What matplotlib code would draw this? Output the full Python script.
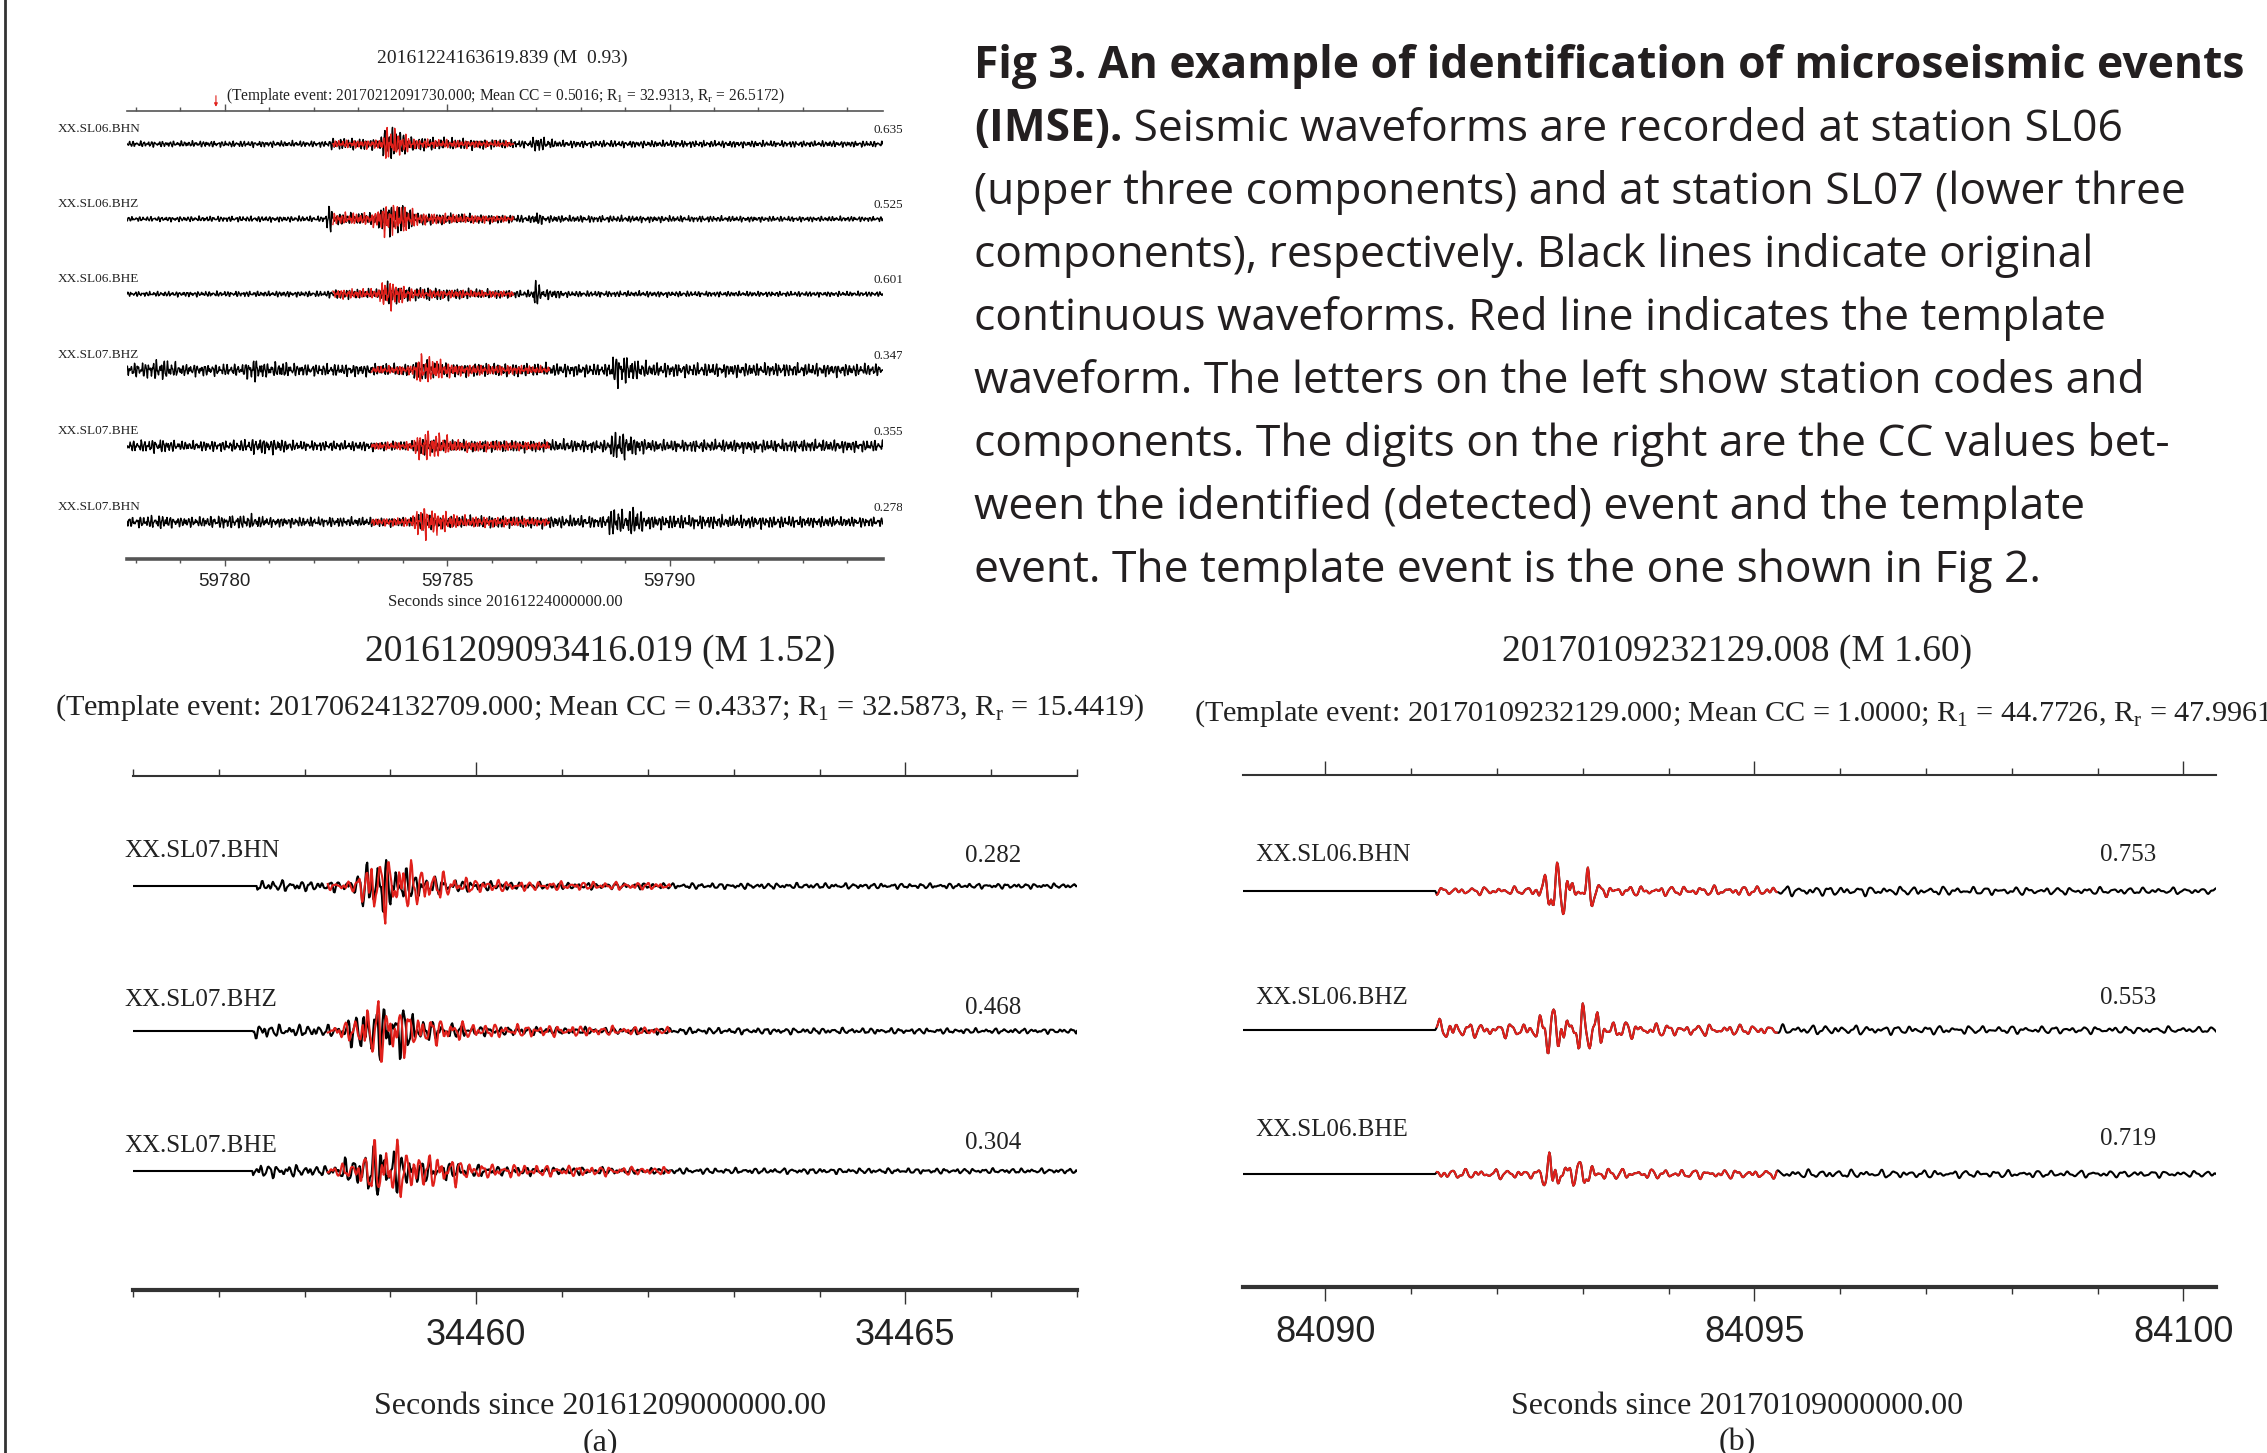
import numpy as np
import matplotlib.pyplot as plt
from matplotlib import font_manager
from matplotlib.lines import Line2D
from matplotlib.ticker import MultipleLocator, FormatStrFormatter
from matplotlib.transforms import Bbox

W, H = 2267, 1453
RED = '#e0201b'
INK = '#231f20'
SERIF = 'Liberation Serif'
SANS = 'Liberation Sans'

_names = {f.name for f in font_manager.fontManager.ttflist}
CAPTION_FONT = next((n for n in ['Open Sans', 'Noto Sans', 'Lato'] if n in _names), 'DejaVu Sans')

# ---------------- data ----------------
# top-left event
top_title = '20161224163619.839 (M  0.93)'
top_sub = (r'(Template event: 20170212091730.000; Mean CC = 0.5016; '
           r'R$_\mathregular{1}$ = 32.9313, R$_\mathregular{r}$ = 26.5172)')
top_xlabel = 'Seconds since 20161224000000.00'
top_xlim = (59777.8, 59794.8)
top_arrow_t = 59779.8
top_stations = ['XX.SL06.BHN', 'XX.SL06.BHZ', 'XX.SL06.BHE',
                'XX.SL07.BHZ', 'XX.SL07.BHE', 'XX.SL07.BHN']
top_cc = ['0.635', '0.525', '0.601', '0.347', '0.355', '0.278']
# envelope knots: (seconds, half amplitude)
top_black = [
    [(59777.8, 2.5), (59782.3, 2.5), (59782.4, 5), (59783.5, 5), (59783.6, 15), (59783.9, 12),
     (59784.2, 6), (59786.9, 3), (59786.95, 8), (59787.2, 5), (59787.5, 3), (59794.8, 2.5)],
    [(59777.8, 2), (59782.25, 2.5), (59782.33, 15), (59782.45, 5), (59783.4, 5), (59783.6, 14),
     (59784.0, 12), (59784.3, 5), (59786.9, 3), (59787.0, 7), (59787.2, 3), (59794.8, 2)],
    [(59777.8, 2), (59782.3, 2.5), (59782.4, 4), (59783.5, 4), (59783.65, 10), (59784.0, 6),
     (59786.9, 3), (59786.98, 15), (59787.1, 5), (59787.4, 4), (59787.7, 2.5), (59794.8, 2)],
    [(59777.8, 5), (59778.3, 7), (59778.6, 9), (59779.0, 5), (59780.4, 5), (59780.6, 11),
     (59780.9, 6), (59781.3, 7), (59781.6, 5), (59784.2, 5), (59784.4, 10), (59784.8, 6),
     (59788.6, 5), (59788.8, 15), (59789.2, 9), (59789.6, 6), (59794.8, 5)],
    [(59777.8, 4), (59778.5, 6), (59779.0, 4), (59780.4, 5), (59780.7, 7), (59781.2, 6),
     (59781.6, 4), (59784.2, 4), (59784.4, 8), (59784.8, 5), (59788.6, 5), (59788.8, 14),
     (59789.2, 8), (59789.6, 5), (59794.8, 5)],
    [(59777.8, 4), (59778.6, 6), (59779.0, 4), (59780.6, 6), (59781.0, 4), (59784.2, 4),
     (59784.4, 8), (59784.8, 5), (59788.5, 5), (59788.75, 14), (59789.0, 8), (59789.2, 14),
     (59789.45, 6), (59794.8, 4)],
]
top_red = [
    [(59782.43, 3), (59783.5, 4), (59783.65, 15), (59783.95, 10), (59784.3, 4), (59786.49, 2.5)],
    [(59782.43, 5), (59783.3, 5), (59783.6, 14), (59784.0, 12), (59784.4, 5), (59786.49, 2.5)],
    [(59782.43, 4), (59783.4, 4), (59783.65, 14), (59783.9, 9), (59784.3, 4), (59786.49, 2.5)],
    [(59783.3, 3), (59784.2, 4), (59784.4, 14), (59784.7, 10), (59785.2, 5), (59787.3, 3)],
    [(59783.3, 3), (59784.2, 4), (59784.45, 14), (59784.8, 11), (59785.2, 5), (59787.3, 3)],
    [(59783.3, 3), (59784.2, 4), (59784.4, 15), (59784.8, 10), (59785.3, 5), (59787.3, 3)],
]

# event (a)
a_title = '20161209093416.019 (M 1.52)'
a_sub = (r'(Template event: 20170624132709.000; Mean CC = 0.4337; '
         r'R$_\mathregular{1}$ = 32.5873, R$_\mathregular{r}$ = 15.4419)')
a_xlabel = 'Seconds since 20161209000000.00'
a_xlim = (34456.0, 34467.0)
a_stations = ['XX.SL07.BHN', 'XX.SL07.BHZ', 'XX.SL07.BHE']
a_cc = ['0.282', '0.468', '0.304']
a_black = [
    [(34456.0, 0), (34457.44, 0), (34457.45, 5), (34458.2, 4), (34458.6, 6), (34458.7, 26),
     (34459.0, 22), (34459.3, 10), (34459.8, 5), (34460.5, 3), (34462.0, 2.5), (34467.0, 2)],
    [(34456.0, 0), (34457.39, 0), (34457.4, 9), (34457.6, 5), (34458.4, 5), (34458.7, 22),
     (34459.1, 24), (34459.4, 9), (34460.0, 4), (34461.0, 3), (34467.0, 2)],
    [(34456.0, 0), (34457.39, 0), (34457.4, 6), (34458.3, 4), (34458.65, 16), (34458.9, 26),
     (34459.2, 12), (34459.6, 8), (34460.2, 4), (34462.0, 2.5), (34467.0, 2)],
]
a_red = [
    [(34458.27, 3), (34458.6, 5), (34458.75, 28), (34459.1, 25), (34459.4, 16), (34459.8, 7),
     (34460.5, 4), (34462.26, 3)],
    [(34458.27, 4), (34458.6, 10), (34458.75, 26), (34459.0, 26), (34459.3, 14), (34460.0, 6),
     (34462.26, 3)],
    [(34458.27, 3), (34458.6, 8), (34458.8, 24), (34459.0, 27), (34459.4, 14), (34459.6, 15),
     (34460.0, 6), (34462.26, 3)],
]

# event (b): template is the event itself, red covers the template window
b_title = '20170109232129.008 (M 1.60)'
b_sub = (r'(Template event: 20170109232129.000; Mean CC = 1.0000; '
         r'R$_\mathregular{1}$ = 44.7726, R$_\mathregular{r}$ = 47.9961)')
b_xlabel = 'Seconds since 20170109000000.00'
b_xlim = (84089.04, 84100.38)
b_red_window = (84091.29, 84095.26)
b_stations = ['XX.SL06.BHN', 'XX.SL06.BHZ', 'XX.SL06.BHE']
b_cc = ['0.753', '0.553', '0.719']
b_black = [
    [(84089.0, 0), (84091.28, 0), (84091.3, 3), (84092.45, 3.5), (84092.55, 22), (84092.8, 22),
     (84092.95, 6), (84093.05, 20), (84093.2, 6), (84093.5, 4), (84095.3, 4), (84100.4, 2.5)],
    [(84089.0, 0), (84091.28, 0), (84091.3, 15), (84091.45, 8), (84091.6, 6), (84092.4, 6),
     (84092.55, 20), (84093.15, 20), (84093.35, 8), (84094.0, 5), (84095.3, 4), (84100.4, 2.5)],
    [(84089.0, 0), (84091.28, 0), (84091.3, 4), (84092.5, 4), (84092.62, 22), (84092.75, 18),
     (84092.9, 8), (84093.0, 16), (84093.15, 6), (84093.5, 4), (84095.3, 3.5), (84100.4, 2.5)],
]

caption_bold = 'Fig 3. An example of identification of microseismic events'
caption_bold2 = '(IMSE).'
caption_lines = [
    ' Seismic waveforms are recorded at station SL06',
    '(upper three components) and at station SL07 (lower three',
    'components), respectively. Black lines indicate original',
    'continuous waveforms. Red line indicates the template',
    'waveform. The letters on the left show station codes and',
    'components. The digits on the right are the CC values bet-',
    'ween the identified (detected) event and the template',
    'event. The template event is the one shown in Fig 2.',
]


# ---------------- helpers ----------------
def wiggle(t, f, k):
    p = 1.3 * k
    return (np.sin(2 * np.pi * f * t + p)
            + 0.7 * np.sin(2 * np.pi * 1.37 * f * t + 2.1 * p + 0.4)
            + 0.5 * np.sin(2 * np.pi * 1.93 * f * t + 3.3 * p + 1.2)
            + 0.35 * np.sin(2 * np.pi * 2.71 * f * t + 0.7 * p + 2.0)) / 1.7


def trace(env, f, k, t0=None, t1=None, dt=0.01):
    kt, ka = np.array(env).T
    t0 = kt[0] if t0 is None else t0
    t1 = kt[-1] if t1 is None else t1
    t = np.arange(t0, t1 + dt / 2, dt)
    return t, np.interp(t, kt, ka, left=0, right=0) * wiggle(t, f, k)


def rect_px(x0, y0, x1, y1):
    return [x0 / W, 1 - y1 / H, (x1 - x0) / W, (y1 - y0) / H]


def ftext(x, y, s, **kw):
    return fig.text(x / W, 1 - y / H, s, **kw)


def seis_axes(x0, y0, x1, y1, xlim, tick_size, major_len, minor_len, top_lw, bot_lw, pad,
              color='#333333'):
    ax = fig.add_axes(rect_px(x0, y0, x1, y1))
    ax.set_xlim(xlim)
    ax.set_ylim(-(y1 - y0), 0)
    ax.patch.set_visible(False)
    for s in ('left', 'right'):
        ax.spines[s].set_visible(False)
    ax.spines['top'].set_linewidth(top_lw)
    ax.spines['bottom'].set_linewidth(bot_lw)
    ax.spines['top'].set_color(color)
    ax.spines['bottom'].set_color(color)
    ax.set_yticks([])
    ax.xaxis.set_major_locator(MultipleLocator(5))
    ax.xaxis.set_minor_locator(MultipleLocator(1))
    ax.xaxis.set_major_formatter(FormatStrFormatter('%d'))
    ax.tick_params(axis='x', which='both', top=True, bottom=True, labeltop=False,
                   direction='out', width=1, colors=color, labelcolor='#222222')
    ax.tick_params(axis='x', which='major', length=major_len, labelsize=tick_size, pad=pad)
    ax.tick_params(axis='x', which='minor', length=minor_len)
    for lab in ax.get_xticklabels():
        lab.set_fontfamily(SANS)
    return ax


fig = plt.figure(figsize=(W / 100, H / 100), dpi=100)
fig.patch.set_facecolor('white')

# page border on the left
fig.add_artist(Line2D([5 / W, 5 / W], [0, 1], color='#333333', lw=2))

# ---------------- top-left event ----------------
top_rows = [33, 108, 183, 259, 335, 411]
ax0 = seis_axes(127, 111, 883, 559, top_xlim, 13.5, 5, 3, 1.2, 2.6, 5, color='#555555')
for i, (blk, red) in enumerate(zip(top_black, top_red)):
    t, y = trace(blk, 12.0, i)
    ax0.plot(t, y - top_rows[i], color='black', lw=1.0)
    t, y = trace(red, 12.0, i + 7)
    ax0.plot(t, y - top_rows[i], color=RED, lw=1.0)
ax0.annotate('', xy=(top_arrow_t, 1), xycoords=('data', 'axes fraction'),
             xytext=(0, 11), textcoords='offset points',
             arrowprops=dict(arrowstyle='-|>', color=RED, lw=0.8, mutation_scale=5,
                             shrinkA=0, shrinkB=3))
clip_right = Bbox.from_extents(0, 0, 902, H)
for i, (name, cc) in enumerate(zip(top_stations, top_cc)):
    yy = 111 + top_rows[i] - 15
    ftext(58, yy, name, family=SERIF, fontsize=9.5, va='center', color='#222222')
    t = ftext(873, yy + 1, cc, family=SERIF, fontsize=9.5, va='center', color='#222222')
    t.set_clip_box(clip_right)
    t.set_clip_on(True)
ftext(502, 58, top_title, family=SERIF, fontsize=14, ha='center', va='center', color='#222222')
ftext(505, 96, top_sub, family=SERIF, fontsize=11.2, ha='center', va='center', color='#222222')
t = ftext(505, 602, top_xlabel, family=SERIF, fontsize=12, ha='center', va='center',
          color='#222222')
t.set_clip_box(Bbox.from_extents(0, H - 609, W, H))
t.set_clip_on(True)

# ---------------- event (a) ----------------
a_rows = [110, 255, 395]
axa = seis_axes(133, 776, 1077, 1290, a_xlim, 26, 10, 5, 1.5, 3.0, 10)
for i, (blk, red) in enumerate(zip(a_black, a_red)):
    t, y = trace(blk, 9.0, i + 3)
    axa.plot(t, y - a_rows[i], color='black', lw=1.5)
    t, y = trace(red, 8.0, i + 11)
    axa.plot(t, y - a_rows[i], color=RED, lw=1.5)
for name, cc, ly, cy in zip(a_stations, a_cc, [851, 1000, 1146], [856, 1008, 1143]):
    ftext(124, ly, name, family=SERIF, fontsize=18, va='center', color='#222222')
    ftext(993, cy, cc, family=SERIF, fontsize=18, ha='center', va='center', color='#222222')
ftext(600, 652, a_title, family=SERIF, fontsize=27, ha='center', va='center', color='#222222')
ftext(600, 708, a_sub, family=SERIF, fontsize=21.8, ha='center', va='center', color='#222222')
ftext(600, 1406, a_xlabel, family=SERIF, fontsize=23, ha='center', va='center', color='#222222')
ftext(600, 1443, '(a)', family=SERIF, fontsize=23, ha='center', va='center', color='#222222')

# ---------------- event (b) ----------------
b_rows = [116, 255, 399]
axb = seis_axes(1243, 775, 2216, 1287, b_xlim, 26, 10, 5, 1.5, 3.0, 10)
for i, blk in enumerate(b_black):
    t, y = trace(blk, 6.0, i + 5, b_xlim[0], b_xlim[1])
    axb.plot(t, y - b_rows[i], color='black', lw=1.5)
    m = (t >= b_red_window[0]) & (t <= b_red_window[1])
    axb.plot(t[m], y[m] - b_rows[i], color=RED, lw=1.5)
for name, cc, ly, cy in zip(b_stations, b_cc, [855, 998, 1130], [855, 998, 1139]):
    ftext(1255, ly, name, family=SERIF, fontsize=18, va='center', color='#222222')
    ftext(2128, cy, cc, family=SERIF, fontsize=18, ha='center', va='center', color='#222222')
ftext(1737, 652, b_title, family=SERIF, fontsize=27, ha='center', va='center', color='#222222')
ftext(1194, 714, b_sub, family=SERIF, fontsize=21.8, ha='left', va='center', color='#222222')
ftext(1737, 1406, b_xlabel, family=SERIF, fontsize=23, ha='center', va='center', color='#222222')
ftext(1737, 1443, '(b)', family=SERIF, fontsize=23, ha='center', va='center', color='#222222')

# ---------------- caption ----------------
# the first line sets the size: it spans 1268 px of the column
x_cap, y_cap, lead = 974, 78, 63
first = ftext(x_cap, y_cap, caption_bold, family=CAPTION_FONT, fontsize=28,
              fontweight='bold', va='baseline', color=INK)
fig.canvas.draw()
cap_size = 28 * 1268 / first.get_window_extent().width
first.set_fontsize(cap_size)
bold2 = ftext(x_cap, y_cap + lead, caption_bold2, family=CAPTION_FONT, fontsize=cap_size,
              fontweight='bold', va='baseline', color=INK)
fig.canvas.draw()
x_after = bold2.get_window_extent().x1
ftext(x_after, y_cap + lead, caption_lines[0], family=CAPTION_FONT, fontsize=cap_size,
      va='baseline', color=INK)
for i, line in enumerate(caption_lines[1:], start=2):
    ftext(x_cap, y_cap + lead * i, line, family=CAPTION_FONT, fontsize=cap_size,
          va='baseline', color=INK)

fig.savefig('out.png', dpi=100, facecolor='white')
